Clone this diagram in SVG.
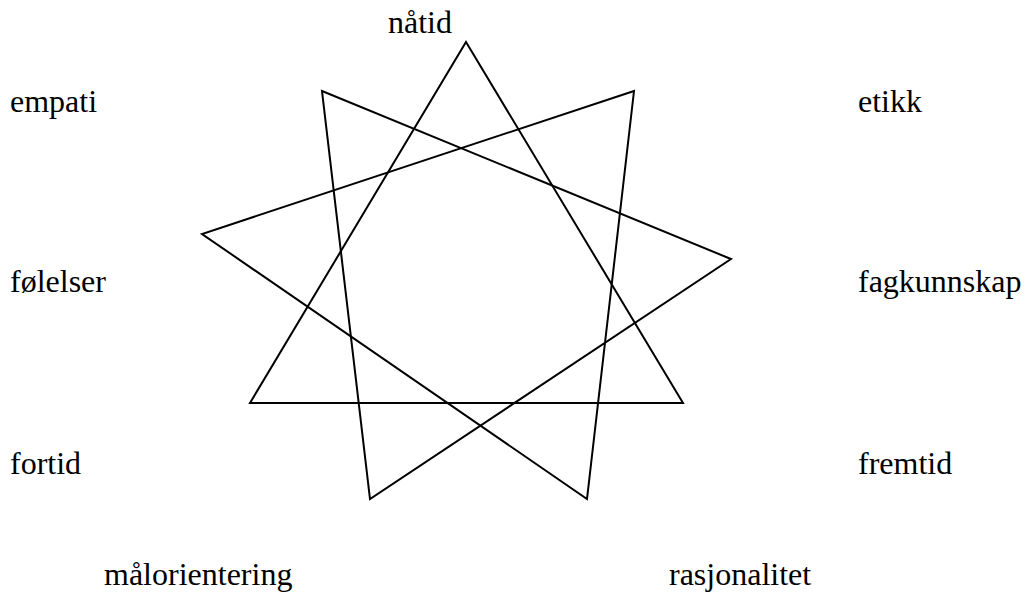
<svg xmlns="http://www.w3.org/2000/svg" width="1026" height="592" viewBox="0 0 1026 592">
<style>
text{font-family:"Liberation Serif","Times New Roman",serif;font-size:32px;fill:#000}
.s{fill:none;stroke:#000;stroke-width:2;stroke-linejoin:miter}
</style>
<rect width="1026" height="592" fill="#fff"/>
<g id="connectors">
<polygon class="s" points="466,42 683,403 250,403"/>
<polygon class="s" points="322,91 731,259 370,499"/>
<polygon class="s" points="634,91 587,499 202,234"/>
</g>
<g id="n-natid"><text x="388" y="33">nåtid</text></g>
<g id="n-empati"><text x="10" y="112">empati</text></g>
<g id="n-etikk"><text x="858" y="112">etikk</text></g>
<g id="n-folelser"><text x="10" y="292">følelser</text></g>
<g id="n-fagkunnskap"><text x="858" y="292">fagkunnskap</text></g>
<g id="n-fortid"><text x="10" y="474">fortid</text></g>
<g id="n-fremtid"><text x="858" y="474">fremtid</text></g>
<g id="n-malorientering"><text x="104" y="585">målorientering</text></g>
<g id="n-rasjonalitet"><text x="669" y="585">rasjonalitet</text></g>
</svg>
